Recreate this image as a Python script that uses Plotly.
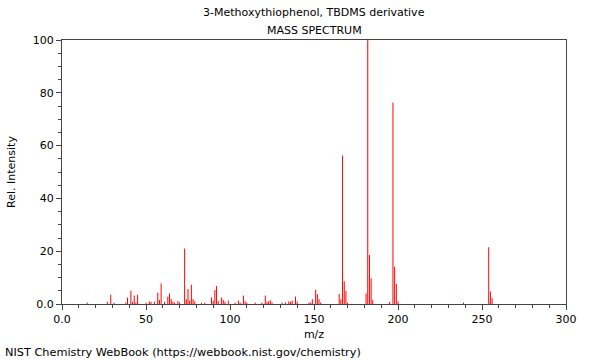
import plotly.graph_objects as go

title_line1 = "3-Methoxythiophenol, TBDMS derivative"
title_line2 = "MASS SPECTRUM"
footer = "NIST Chemistry WebBook (https://webbook.nist.gov/chemistry)"

mz = [15, 27, 29, 31, 38, 39, 41, 42, 43, 44, 45, 50, 52, 53, 55, 57, 58, 59,
      61, 63, 64, 65, 66, 67, 69, 70, 73, 74, 75, 76, 77, 78, 79, 83, 85, 89,
      90, 91, 92, 93, 95, 96, 97, 99, 103, 105, 106, 108, 109, 110, 115, 119,
      121, 122, 123, 124, 125, 131, 133, 135, 136, 137, 139, 140, 147, 148,
      149, 151, 152, 153, 154, 165, 166, 167, 168, 169, 170, 181, 182, 183,
      184, 185, 195, 197, 198, 199, 200, 239, 254, 255, 256]
intensity = [0.5, 0.8, 3.5, 0.5, 0.5, 2.4, 5.0, 0.8, 3.2, 0.5, 3.5, 0.5, 0.9,
             0.8, 0.9, 4.3, 1.5, 7.8, 0.8, 2.8, 4.0, 1.9, 0.9, 0.5, 1.1, 0.6,
             21.0, 1.8, 5.7, 1.3, 7.3, 1.8, 1.0, 0.5, 0.5, 2.5, 1.3, 5.3, 6.8,
             1.1, 2.4, 1.5, 0.8, 1.3, 0.5, 1.3, 0.5, 3.2, 1.0, 0.5, 0.5, 0.5,
             3.2, 0.8, 1.0, 1.4, 0.6, 0.5, 0.6, 1.0, 0.8, 1.3, 2.8, 0.9, 0.5,
             0.5, 1.8, 5.4, 3.7, 1.8, 0.6, 3.8, 1.8, 56.2, 8.6, 5.0, 0.5, 4.0,
             100.0, 18.6, 9.7, 1.5, 0.8, 76.3, 14.1, 7.6, 1.0, 0.5, 21.5, 4.7,
             2.2]

x_tickvals = [0, 50, 100, 150, 200, 250, 300]
x_ticktext = ["0.0", "50", "100", "150", "200", "250", "300"]
y_tickvals = [0, 20, 40, 60, 80, 100]
y_ticktext = ["0.0", "20", "40", "60", "80", "100"]

xs, ys = [], []
for m, v in zip(mz, intensity):
    xs += [m, m, None]
    ys += [0, v, None]

font = "DejaVu Sans, sans-serif"
fig = go.Figure()
fig.add_trace(go.Scatter(x=xs, y=ys, mode="lines",
                         line=dict(color="#ff0000", width=1),
                         hoverinfo="skip", showlegend=False))

axis_common = dict(showgrid=False, zeroline=False, showline=True,
                   linecolor="#444", linewidth=1, mirror=True,
                   ticks="outside", ticklen=5, tickcolor="#444",
                   tickfont=dict(family=font, size=11, color="#000"))

fig.update_xaxes(range=[0, 300], tickvals=x_tickvals, ticktext=x_ticktext,
                 minor=dict(tickvals=list(range(0, 301, 10)), ticks="outside",
                            ticklen=3, tickcolor="#444"),
                 title=dict(text="m/z", font=dict(family=font, size=11, color="#000"),
                            standoff=5),
                 **axis_common)
fig.update_yaxes(range=[0, 100], tickvals=y_tickvals, ticktext=y_ticktext,
                 minor=dict(tickvals=list(range(0, 101, 5)), ticks="outside",
                            ticklen=3, tickcolor="#444"),
                 title=dict(text="Rel. Intensity", font=dict(family=font, size=11, color="#000"),
                            standoff=14),
                 **axis_common)

L, R, T, B = 62, 34, 40, 56
plot_h = 360 - T - B
plot_w = 600 - L - R

fig.update_layout(
    width=600, height=360,
    margin=dict(l=L, r=R, t=T, b=B, autoexpand=False),
    paper_bgcolor="white", plot_bgcolor="white",
    font=dict(family=font, size=11, color="#000"),
    annotations=[
        dict(text=title_line1, x=0.5, y=1 + (T - 13) / plot_h, xref="paper", yref="paper",
             yanchor="middle", showarrow=False, font=dict(family=font, size=11)),
        dict(text=title_line2, x=0.5, y=1 + (T - 30) / plot_h, xref="paper", yref="paper",
             yanchor="middle", showarrow=False, font=dict(family=font, size=11)),
        dict(text=footer, x=-(L - 3) / plot_w, xanchor="left", y=-(352 - (360 - B)) / plot_h,
             yanchor="middle", xref="paper", yref="paper",
             showarrow=False, font=dict(family=font, size=11.3)),
    ],
)

fig.write_html("out.html", config={"displayModeBar": False},
               post_script="document.body.style.margin='0';")
